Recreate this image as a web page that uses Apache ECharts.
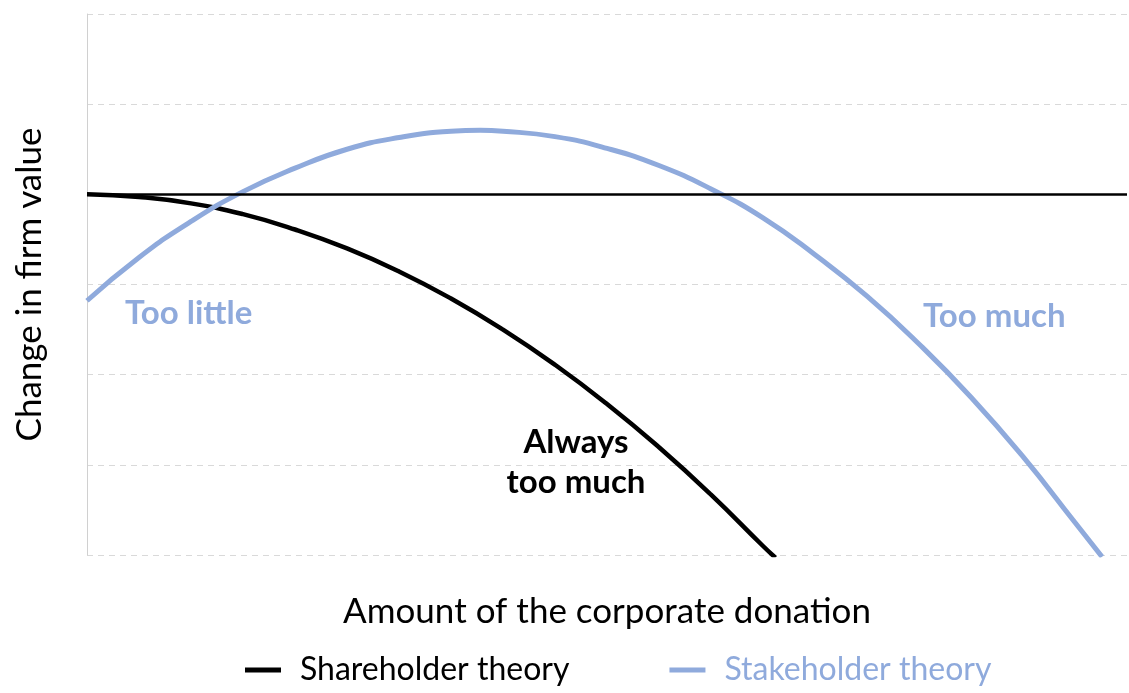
<!DOCTYPE html>
<html>
<head>
<meta charset="utf-8">
<script src="https://cdn.jsdelivr.net/npm/echarts@6/dist/echarts.min.js"></script>
<style>html,body{margin:0;padding:0;background:#fff}#c{width:1129px;height:693px}</style>
</head>
<body>
<div id="c"></div>
<script>
// Data (x: amount 0..100, y: change in firm value)
const shareholderX = [0, 5, 10, 15, 20, 25, 30, 35, 40, 45, 50, 55, 60, 65, 66.2];
const shareholderY = [0, -0.03, -0.1, -0.22, -0.39, -0.6, -0.855, -1.155, -1.5, -1.89, -2.325, -2.805, -3.33, -3.9, -4.03];
const stakeholderX = [0, 5, 10, 15, 20, 25, 30, 35, 37.8, 40, 45, 50, 55, 60, 65, 70, 75, 80, 85, 90, 95, 97.6];
const stakeholderY = [-1.18, -0.7, -0.3, 0.03, 0.29, 0.5, 0.63, 0.7, 0.71, 0.7, 0.64, 0.51, 0.32, 0.06, -0.26, -0.67, -1.13, -1.66, -2.25, -2.91, -3.64, -4.02];
const seriesNames = ['Shareholder theory', 'Stakeholder theory'];
const annotations = ['Too little', 'Too much', 'Always\ntoo much'];

const BLUE = '#8FAADC';
const FONT = 'Lato';
const pairs = (xs, ys) => xs.map((x, i) => [x, ys[i]]);

const chart = echarts.init(document.getElementById('c'));
chart.setOption({
  animation: false,
  backgroundColor: '#fff',
  textStyle: { fontFamily: FONT },
  grid: { left: 87, right: 2, top: 14, bottom: 138, containLabel: false },
  xAxis: {
    type: 'value', min: 0, max: 100,
    axisLine: { show: false }, axisTick: { show: false }, axisLabel: { show: false }, splitLine: { show: false },
    name: 'Amount of the corporate donation', nameLocation: 'middle', nameGap: 39,
    nameTextStyle: { fontSize: 35, color: '#000', fontFamily: FONT }
  },
  yAxis: {
    type: 'value', min: -4, max: 2, interval: 1,
    axisLine: { show: true, lineStyle: { color: '#d0d0d0', width: 1 } },
    axisTick: { show: false }, axisLabel: { show: false },
    splitLine: { show: true, lineStyle: { color: '#d9d9d9', type: [6, 5], width: 1 } },
    name: 'Change in firm value', nameLocation: 'middle', nameGap: 40, nameRotate: 90,
    nameTextStyle: { fontSize: 35, color: '#000', fontFamily: FONT }
  },
  legend: {
    bottom: 2, left: 240, itemGap: 100, icon: 'rect', itemWidth: 36, itemHeight: 5,
    textStyle: { fontSize: 32, fontFamily: FONT, padding: [0, 0, 0, 14] },
    data: [
      { name: seriesNames[0], textStyle: { color: '#000', fontSize: 32, padding: [0, 0, 0, 14] } },
      { name: seriesNames[1], textStyle: { color: BLUE, fontSize: 32, padding: [0, 0, 0, 14] } }
    ]
  },
  series: [
    {
      name: seriesNames[0], type: 'line', smooth: true, showSymbol: false, z: 2,
      color: '#000', lineStyle: { color: '#000', width: 4.5 },
      data: pairs(shareholderX, shareholderY),
      markLine: {
        silent: true, symbol: 'none', label: { show: false },
        lineStyle: { color: '#000', type: 'solid', width: 2.5 },
        data: [{ yAxis: 0 }]
      }
    },
    {
      name: seriesNames[1], type: 'line', smooth: true, showSymbol: false, z: 3,
      color: BLUE, lineStyle: { color: BLUE, width: 5 },
      data: pairs(stakeholderX, stakeholderY)
    }
  ],
  graphic: [
    { type: 'text', x: 125, y: 297, style: { text: annotations[0], fill: BLUE, font: 'bold 33px ' + FONT, textVerticalAlign: 'top' } },
    { type: 'text', x: 923, y: 300, style: { text: annotations[1], fill: BLUE, font: 'bold 33px ' + FONT, textVerticalAlign: 'top' } },
    { type: 'text', x: 576, y: 422, style: { text: annotations[2], fill: '#000', font: 'bold 33px ' + FONT, textAlign: 'center', textVerticalAlign: 'top', lineHeight: 40 } }
  ]
});
</script>
</body>
</html>
